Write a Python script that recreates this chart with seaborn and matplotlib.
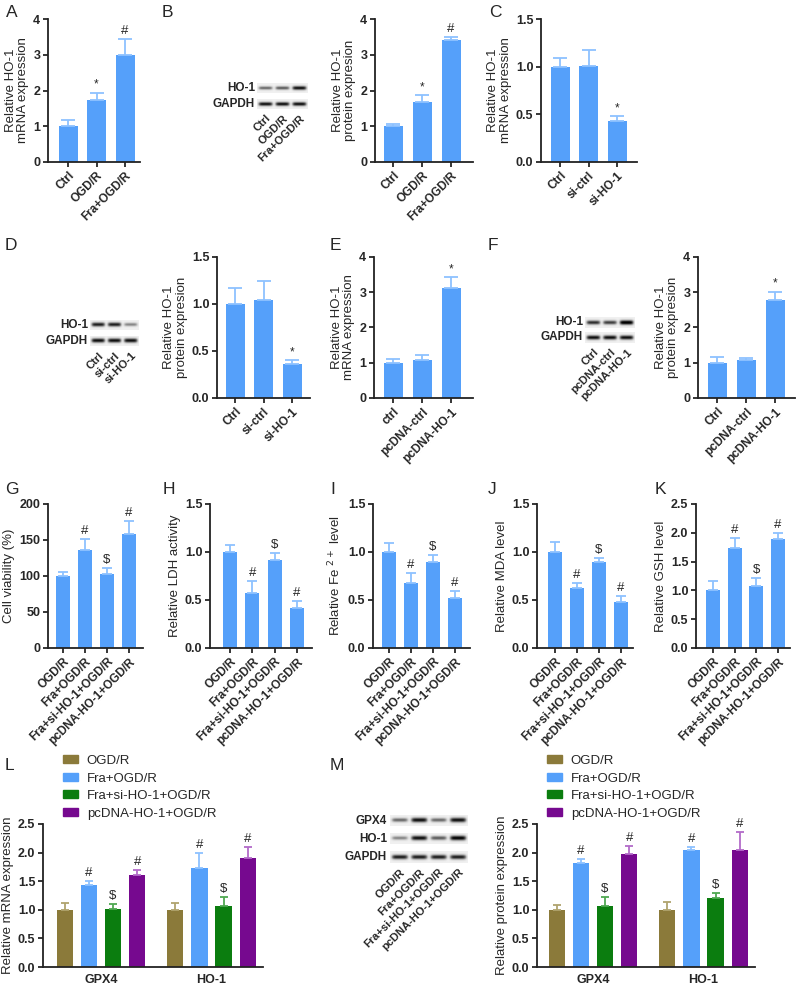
import numpy as np
import pandas as pd
import matplotlib
matplotlib.use("Agg")
import matplotlib.pyplot as plt
from matplotlib.patches import Patch
from matplotlib.ticker import FormatStrFormatter
import seaborn as sns

# ── Data ──────────────────────────────────────────────────────────────────────
ctrl_ogd = ["Ctrl", "OGD/R", "Fra+OGD/R"]
ctrl_si = ["Ctrl", "si-ctrl", "si-HO-1"]
ctrl_pc_e = ["ctrl", "pcDNA-ctrl", "pcDNA-HO-1"]
ctrl_pc_f = ["Ctrl", "pcDNA-ctrl", "pcDNA-HO-1"]
groups4 = ["OGD/R", "Fra+OGD/R", "Fra+si-HO-1+OGD/R", "pcDNA-HO-1+OGD/R"]
genes = ["GPX4", "HO-1"]

a_vals, a_errs, a_sig = [1.0, 1.73, 3.0], [0.17, 0.20, 0.45], ["", "*", "#"]
b_vals, b_errs, b_sig = [1.0, 1.67, 3.40], [0.05, 0.20, 0.10], ["", "*", "#"]
c_vals, c_errs, c_sig = [1.0, 1.01, 0.43], [0.09, 0.17, 0.05], ["", "", "*"]
d_vals, d_errs, d_sig = [1.0, 1.04, 0.36], [0.17, 0.20, 0.04], ["", "", "*"]
e_vals, e_errs, e_sig = [1.0, 1.07, 3.13], [0.10, 0.16, 0.30], ["", "", "*"]
f_vals, f_errs, f_sig = [1.0, 1.08, 2.77], [0.16, 0.05, 0.25], ["", "", "*"]

sig4 = ["", "#", "$", "#"]
g_vals, g_errs = [100, 136, 103, 158], [6, 15, 8, 18]
h_vals, h_errs = [1.0, 0.57, 0.92, 0.42], [0.07, 0.13, 0.07, 0.07]
i_vals, i_errs = [1.0, 0.68, 0.90, 0.52], [0.09, 0.10, 0.07, 0.07]
j_vals, j_errs = [1.0, 0.62, 0.90, 0.48], [0.10, 0.06, 0.04, 0.06]
k_vals, k_errs = [1.0, 1.73, 1.08, 1.90], [0.17, 0.18, 0.13, 0.10]

# grouped panels: one list per group, values for [GPX4, HO-1]
l_vals = [[1.0, 1.0], [1.43, 1.73], [1.02, 1.07], [1.60, 1.90]]
l_errs = [[0.12, 0.12], [0.08, 0.27], [0.08, 0.15], [0.10, 0.20]]
m_vals = [[1.0, 1.0], [1.82, 2.04], [1.06, 1.20], [1.97, 2.04]]
m_errs = [[0.09, 0.13], [0.06, 0.06], [0.16, 0.10], [0.15, 0.32]]

# western blot band intensities (one value per lane)
blot_b = {"HO-1": [0.55, 0.60, 0.85], "GAPDH": [0.85, 0.85, 0.85]}
blot_d = {"HO-1": [0.80, 0.80, 0.45], "GAPDH": [0.85, 0.85, 0.85]}
blot_f = {"HO-1": [0.75, 0.70, 0.95], "GAPDH": [0.85, 0.85, 0.85]}
blot_m = {"GPX4": [0.55, 0.85, 0.55, 0.85], "HO-1": [0.45, 0.85, 0.60, 0.90],
          "GAPDH": [0.80, 0.80, 0.80, 0.80]}

# ── Style ─────────────────────────────────────────────────────────────────────
BLUE, BLUE_ERR = "#55A0FA", "#8EC2FF"
GROUP_COLORS = ["#8B7A3A", "#55A0FA", "#0B7D0F", "#76098F"]
GROUP_ERR = ["#B0A46E", "#8EC2FF", "#4FA852", "#B36BC9"]

TICK_FS = 9        # y tick numbers
XLAB_FS = 8.5      # rotated category labels
YLAB_FS = 9.5      # axis titles
LEG_FS = 9.5

sns.set_style("ticks")
plt.rcParams["font.family"] = ["Liberation Sans", "DejaVu Sans"]
plt.rcParams["axes.linewidth"] = 1.3
plt.rcParams["xtick.major.width"] = 1.3
plt.rcParams["ytick.major.width"] = 1.3
plt.rcParams["xtick.major.size"] = 3.5
plt.rcParams["ytick.major.size"] = 3.5
plt.rcParams["axes.edgecolor"] = "#222222"

W, H = 800, 990
fig = plt.figure(figsize=(W / 100, H / 100), dpi=100)


def add_ax(left, top, right, bottom):
    """Axes from pixel box (origin top-left)."""
    return fig.add_axes([left / W, 1 - bottom / H, (right - left) / W, (bottom - top) / H])


def letter(txt, x, y):
    fig.text(x / W, 1 - y / H, txt, fontsize=12.5, va="top", ha="left")


def style_axis(ax, ymax, ystep, fmt, ylabel):
    ax.set_ylim(0, ymax)
    ax.set_yticks(np.arange(0, ymax + 1e-9, ystep))
    ax.yaxis.set_major_formatter(FormatStrFormatter(fmt))
    ax.set_ylabel(ylabel, fontsize=YLAB_FS, labelpad=3, linespacing=1.05)
    ax.set_xlabel("")
    sns.despine(ax=ax)
    for lab in ax.get_yticklabels():
        lab.set_fontweight("bold")
        lab.set_fontsize(TICK_FS)
    ax.tick_params(axis="both", pad=2)


def bar_panel(box, cats, vals, errs, sigs, ymax, ystep, fmt, ylabel,
              c0, step, bw, cap):
    x0, top, x1, bot = box
    ax = add_ax(x0, top, x1, bot)
    sns.barplot(x=cats, y=vals, color=BLUE, saturation=1, errorbar=None,
                width=bw / step, linewidth=0, ax=ax)
    bars = list(ax.containers[0])
    for bar in bars:
        cx = bar.get_x() + bar.get_width() / 2
        k = int(round(cx))
        ax.errorbar(cx, vals[k], yerr=[[0], [errs[k]]], fmt="none", ecolor=BLUE_ERR,
                    elinewidth=1.3, capsize=cap, capthick=1.3, clip_on=False)
        if sigs[k]:
            ax.annotate(sigs[k], xy=(cx, vals[k] + errs[k]), xytext=(0, 1.5),
                        textcoords="offset points", ha="center", va="bottom",
                        fontsize=9.5 if sigs[k] != "*" else 8.5, annotation_clip=False)
    ax.set_xlim((x0 - c0) / step, (x1 - c0) / step)
    style_axis(ax, ymax, ystep, fmt, ylabel)
    ax.set_xticks(range(len(cats)))
    ax.set_xticklabels(cats, rotation=45, ha="right", rotation_mode="anchor",
                       fontweight="bold", fontsize=XLAB_FS)
    return ax


def grouped_panel(box, vals, errs, ylabel, c0, step, leg_x):
    x0, top, x1, bot = box
    ax = add_ax(x0, top, x1, bot)
    df = pd.DataFrame({
        "gene": [g for _ in groups4 for g in genes],
        "group": [grp for grp in groups4 for _ in genes],
        "value": [v for row in vals for v in row],
    })
    sns.barplot(data=df, x="gene", y="value", hue="group", hue_order=groups4,
                palette=GROUP_COLORS, saturation=1, errorbar=None, width=0.873,
                gap=0.33, linewidth=0, legend=False, ax=ax)
    bar_conts = list(ax.containers)
    for gi, cont in enumerate(bar_conts):
        for bar in cont:
            cx = bar.get_x() + bar.get_width() / 2
            k = int(round(cx))
            v, e = vals[gi][k], errs[gi][k]
            ax.errorbar(cx, v, yerr=[[0], [e]], fmt="none", ecolor=GROUP_ERR[gi],
                        elinewidth=1.3, capsize=3, capthick=1.3, clip_on=False)
            if sig4[gi]:
                ax.annotate(sig4[gi], xy=(cx, v + e), xytext=(0, 1.5),
                            textcoords="offset points", ha="center", va="bottom",
                            fontsize=9.5, annotation_clip=False)
    ax.set_xlim((x0 - c0) / step, (x1 - c0) / step)
    style_axis(ax, 2.5, 0.5, "%.1f", ylabel)
    ax.set_xticks(range(len(genes)))
    ax.set_xticklabels(genes, fontweight="bold", fontsize=9)
    ax.tick_params(axis="x", length=0, pad=5)
    fig.legend(handles=[Patch(color=c) for c in GROUP_COLORS], labels=groups4,
               loc="upper left", bbox_to_anchor=(leg_x / W, 1 - 755 / H),
               frameon=False, fontsize=LEG_FS, handlelength=1.15, handleheight=0.55,
               labelspacing=0.42, handletextpad=0.65, borderpad=0, borderaxespad=0)
    return ax


def blot(x0, x1, rows_y, row_h, bands, lane_labels):
    names = list(bands.keys())
    n = len(lane_labels)
    xs = np.linspace(0, n, 200)
    ys = np.linspace(-1, 1, 24)
    for r, (name, yc) in enumerate(zip(names, rows_y)):
        ax = add_ax(x0, yc - row_h / 2, x1, yc + row_h / 2)
        img = np.full((ys.size, xs.size), 0.12)
        for lane, inten in enumerate(bands[name]):
            prof_x = np.exp(-((xs - (lane + 0.5)) / 0.42) ** 6)
            prof_y = np.exp(-(ys / (0.25 + 0.2 * inten)) ** 2)
            img += inten * np.outer(prof_y, prof_x)
        ax.imshow(np.clip(img, 0, 1), cmap="Greys", vmin=0, vmax=1, aspect="auto",
                  extent=(0, n, -1, 1), interpolation="bilinear")
        for s in ax.spines.values():
            s.set_visible(False)
        ax.set_yticks([])
        ax.text(-0.04, 0.5, name, transform=ax.transAxes, ha="right", va="center",
                fontsize=8.5, fontweight="bold")
        if r == len(names) - 1:
            ax.set_xticks(np.arange(n) + 0.5)
            ax.set_xticklabels(lane_labels, rotation=45, ha="right",
                               rotation_mode="anchor", fontweight="bold", fontsize=8)
            ax.tick_params(axis="x", length=0, pad=3)
        else:
            ax.set_xticks([])


# ── Row 1 ────────────────────────────────────────────────────────────────────
letter("A", 6, 5)
bar_panel((48, 19, 140, 162), ctrl_ogd, a_vals, a_errs, a_sig, 4, 1, "%d",
          "Relative HO-1\nmRNA expression", 68, 28.5, 19, 5)
letter("B", 162, 5)
blot(257, 308, [88, 104], 10, blot_b, ctrl_ogd)
bar_panel((375, 19, 473, 162), ctrl_ogd, b_vals, b_errs, b_sig, 4, 1, "%d",
          "Relative HO-1\nprotein expresion", 393, 29, 19, 5)
letter("C", 489, 5)
bar_panel((541, 19, 637, 162), ctrl_si, c_vals, c_errs, c_sig, 1.5, 0.5, "%.1f",
          "Relative HO-1\nmRNA expression", 560, 28.5, 19, 5)

# ── Row 2 ────────────────────────────────────────────────────────────────────
letter("D", 5, 238)
blot(90, 139, [325, 341], 11, blot_d, ctrl_si)
bar_panel((217, 257, 310, 398), ctrl_si, d_vals, d_errs, d_sig, 1.5, 0.5, "%.1f",
          "Relative HO-1\nprotein expresion", 235, 28.5, 19, 5)
letter("E", 330, 238)
bar_panel((374, 257, 473, 398), ctrl_pc_e, e_vals, e_errs, e_sig, 4, 1, "%d",
          "Relative HO-1\nmRNA expression", 393, 29, 19, 5)
letter("F", 488, 238)
blot(585, 635, [322, 337.5], 11, blot_f, ctrl_pc_f)
bar_panel((698, 257, 795, 398), ctrl_pc_f, f_vals, f_errs, f_sig, 4, 1, "%d",
          "Relative HO-1\nprotein expresion", 717, 29, 19, 5)

# ── Row 3 ────────────────────────────────────────────────────────────────────
letter("G", 5, 482)
bar_panel((48, 504, 143, 648), groups4, g_vals, g_errs, sig4, 200, 50, "%d",
          "Cell viability (%)", 63, 22, 14, 3.5)
letter("H", 163, 482)
bar_panel((210, 504, 312, 648), groups4, h_vals, h_errs, sig4, 1.5, 0.5, "%.1f",
          "Relative LDH activity", 230, 22.3, 14, 3.5)
letter("I", 330, 482)
bar_panel((373, 504, 470, 648), groups4, i_vals, i_errs, sig4, 1.5, 0.5, "%.1f",
          "Relative Fe $^{2+}$ level", 389, 22, 14, 3.5)
letter("J", 488, 482)
bar_panel((537, 504, 633, 648), groups4, j_vals, j_errs, sig4, 1.5, 0.5, "%.1f",
          "Relative MDA level", 555, 22, 14, 3.5)
letter("K", 655, 482)
bar_panel((696, 504, 790, 648), groups4, k_vals, k_errs, sig4, 2.5, 0.5, "%.1f",
          "Relative GSH level", 713, 21.7, 14, 3.5)

# ── Row 4 ────────────────────────────────────────────────────────────────────
letter("L", 5, 758)
grouped_panel((43, 824, 263, 967), l_vals, l_errs, "Relative mRNA expression",
              101, 110.5, 63)
letter("M", 330, 758)
blot(390, 468, [820.5, 838.5, 857], 11.5, blot_m, groups4)
grouped_panel((537, 824, 755, 967), m_vals, m_errs, "Relative protein expression",
              593, 110.5, 547)

fig.savefig("out.png", dpi=100)
